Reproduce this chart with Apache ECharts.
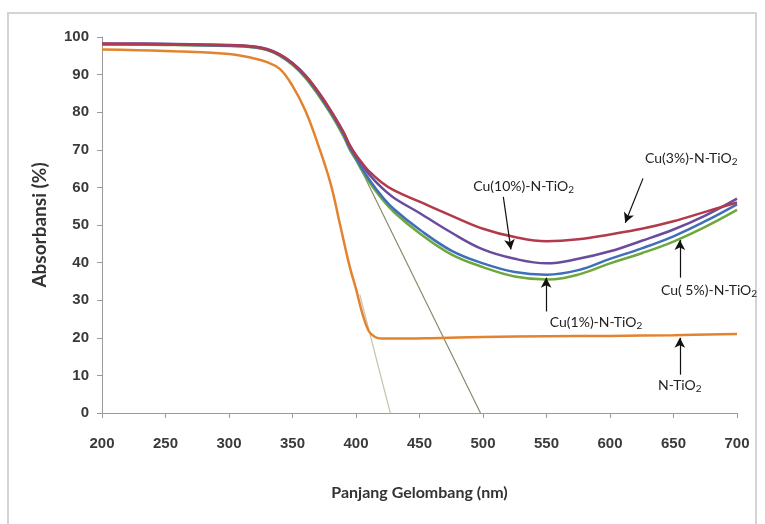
<!DOCTYPE html>
<html>
<head>
<meta charset="utf-8">
<script src="https://cdn.jsdelivr.net/npm/echarts@6/dist/echarts.min.js"></script>
<style>
  html, body { margin: 0; padding: 0; background: #fff; }
  #chart { width: 765px; height: 524px; }
</style>
</head>
<body>
<div id="chart"></div>
<script>
// wavelengths (nm)
const cuWave = [200, 250, 300, 320, 330, 340, 350, 360, 370, 380, 390, 395, 400, 405, 410, 420, 430, 450, 475, 500, 525, 550, 575, 600, 625, 650, 675, 700]
const nWave = [200, 250, 300, 320, 330, 340, 350, 360, 370, 380, 387.5, 395, 400, 405, 410, 415, 420, 440, 460, 500, 550, 600, 650, 700]

// absorbansi (%)
const cu3 = [98.2, 98.1, 97.8, 97.4, 96.7, 95.3, 93, 89.8, 85.5, 80.5, 74.8, 71.3, 68.6, 66.4, 64.4, 61.4, 59.2, 56.2, 52.5, 49, 46.8, 45.7, 46.2, 47.5, 49, 51, 53.5, 56]
const cu10 = [98.3, 98.2, 97.9, 97.5, 96.8, 95.4, 93.1, 89.9, 85.6, 80.5, 74.8, 71.2, 68.4, 66, 63.6, 60, 57.2, 53.2, 48, 43.5, 41, 39.8, 41, 43, 45.8, 48.8, 52.5, 57]
const cu1 = [98.1, 98, 97.7, 97.3, 96.6, 95.2, 92.8, 89.5, 85.1, 80, 74.2, 70.6, 67.8, 64.9, 62.3, 57.8, 54.2, 48.8, 43.2, 39.8, 37.5, 36.8, 38, 41, 43.8, 47, 51, 55.5]
const cu5 = [98, 97.9, 97.6, 97.2, 96.5, 95, 92.6, 89.2, 84.7, 79.6, 73.7, 70.1, 67.3, 64.3, 61.6, 57.1, 53.4, 47.8, 42.2, 38.8, 36.3, 35.5, 36.8, 39.8, 42.5, 45.6, 49.5, 54]
const nTiO2 = [96.7, 96.3, 95.5, 94.3, 93.3, 91.5, 87, 80.5, 71.5, 61, 50, 39, 33, 26.5, 21.8, 20.2, 19.8, 19.8, 19.9, 20.2, 20.4, 20.5, 20.7, 21]

// garis singgung (band gap)
const tangentN = [[403, 31.5], [427, 0]]
const tangentCu = [[400, 67.5], [498, 0]]

const xTicks = [200, 250, 300, 350, 400, 450, 500, 550, 600, 650, 700]

// anotasi: [teks, posisi teks, pangkal panah, ujung panah]
const notes = {
  cu10: ['Cu(10%)-N-TiO', [532, 60.3], [516, 57.5], [522, 43.5]],
  cu3: ['Cu(3%)-N-TiO', [664, 67.8], [626, 62.4], [612, 50.6]],
  cu1: ['Cu(1%)-N-TiO', [589, 24.2], [549.7, 27], [549.7, 36]],
  cu5: ['Cu( 5%)-N-TiO', [678, 32.7], [655, 36], [655, 46]],
  nTiO2: ['N-TiO', [655, 7.4], [655, 10.2], [655, 20]]
}

const FONT = "Lato, 'Liberation Sans', sans-serif"
const AXIS_FONT = "'Liberation Sans', sans-serif"

const pairs = (xs, ys) => xs.map((x, i) => [x, ys[i]])

const annotate = (note) => ({
  markLine: {
    silent: true,
    symbol: ['none', 'arrow'],
    symbolSize: [8, 10],
    lineStyle: { color: '#111', width: 1.2, type: 'solid' },
    label: { show: false },
    emphasis: { disabled: true },
    data: [[{ coord: note[2] }, { coord: note[3] }]]
  },
  markPoint: {
    silent: true,
    symbol: 'rect',
    symbolSize: 1,
    itemStyle: { color: 'rgba(0,0,0,0)' },
    label: {
      show: true,
      position: 'inside',
      formatter: note[0] + '{sub|2}',
      color: '#222',
      fontFamily: FONT,
      fontSize: 14,
      rich: {
        sub: { fontSize: 10, fontFamily: FONT, color: '#222', padding: [8, 0, 0, 0] }
      }
    },
    data: [{ coord: note[1] }]
  }
})

const curve = (name, data, color, note) => Object.assign({
  name: name,
  type: 'line',
  data: data,
  showSymbol: false,
  smooth: 0.4,
  lineStyle: { color: color, width: 2.5 },
  itemStyle: { color: color },
  z: 3
}, annotate(note))

const chart = echarts.init(document.getElementById('chart'))

chart.setOption({
  animation: false,
  backgroundColor: '#fff',
  graphic: [{
    type: 'rect',
    shape: { x: 8, y: 13, width: 748, height: 530 },
    style: { fill: 'none', stroke: '#d4d4d4', lineWidth: 2 },
    silent: true
  }],
  grid: { left: 102, right: 28, top: 37, bottom: 111 },
  xAxis: {
    type: 'value',
    min: 200,
    max: 700,
    interval: 50,
    name: 'Panjang Gelombang (nm)',
    nameLocation: 'middle',
    nameGap: 72,
    nameTextStyle: { fontFamily: FONT, fontSize: 16, fontWeight: 'bold', color: '#333' },
    axisLine: { lineStyle: { color: '#9a9a9a', width: 1 } },
    axisTick: { show: true, length: 5, lineStyle: { color: '#9a9a9a' } },
    axisLabel: {
      margin: 23,
      fontFamily: AXIS_FONT,
      fontSize: 15,
      fontWeight: 'bold',
      color: '#3a3a3a',
      formatter: (v) => xTicks.includes(v) ? String(v) : ''
    },
    splitLine: { show: false }
  },
  yAxis: {
    type: 'value',
    min: 0,
    max: 100,
    interval: 10,
    name: 'Absorbansi (%)',
    nameLocation: 'middle',
    nameGap: 53,
    nameTextStyle: { fontFamily: FONT, fontSize: 19, fontWeight: 'bold', color: '#333' },
    axisLine: { show: true, lineStyle: { color: '#9a9a9a', width: 1 } },
    axisTick: { show: true, length: 5, lineStyle: { color: '#9a9a9a' } },
    axisLabel: { margin: 13, fontFamily: AXIS_FONT, fontSize: 15, fontWeight: 'bold', color: '#3a3a3a' },
    splitLine: { show: false }
  },
  series: [
    {
      name: 'tangent N-TiO2',
      type: 'line',
      data: tangentN,
      showSymbol: false,
      lineStyle: { color: '#c8c2ad', width: 1.2 },
      z: 1
    },
    {
      name: 'tangent Cu-N-TiO2',
      type: 'line',
      data: tangentCu,
      showSymbol: false,
      lineStyle: { color: '#868b6c', width: 1.2 },
      z: 1
    },
    curve('N-TiO2', pairs(nWave, nTiO2), '#e4832f', notes.nTiO2),
    curve('Cu(5%)-N-TiO2', pairs(cuWave, cu5), '#6ea83c', notes.cu5),
    curve('Cu(1%)-N-TiO2', pairs(cuWave, cu1), '#3f6fb8', notes.cu1),
    curve('Cu(10%)-N-TiO2', pairs(cuWave, cu10), '#6a4c9e', notes.cu10),
    curve('Cu(3%)-N-TiO2', pairs(cuWave, cu3), '#b23a4a', notes.cu3)
  ]
})
</script>
</body>
</html>
